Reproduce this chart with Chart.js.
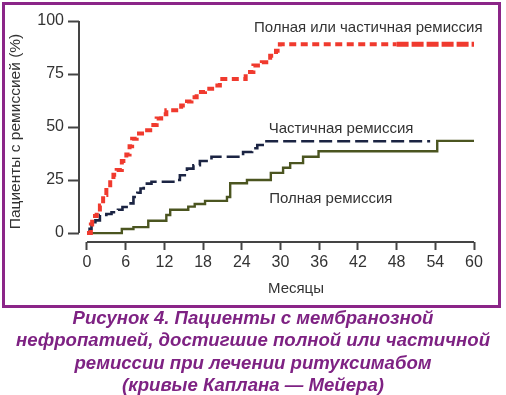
<!DOCTYPE html>
<html>
<head>
<meta charset="utf-8">
<script src="https://cdn.jsdelivr.net/npm/chart.js@4"></script>
<style>
  body { margin: 0; background: #fff; }
  #wrap { position: relative; width: 506px; height: 395px; }
  #chart { position: absolute; left: 0; top: 0; }
  #box { position: absolute; left: 2px; top: 2px; width: 499px; height: 306px; box-sizing: border-box;
         border: 3px solid #8b2588; pointer-events: none; }
  #caption { position: absolute; left: 0; top: 307px; width: 506px; text-align: center;
             font: italic bold 18.6px "Liberation Sans", Arial, sans-serif; line-height: 22.4px; color: #7e2283; }
</style>
</head>
<body>
<div id="wrap">
  <canvas id="chart" width="506" height="306"></canvas>
  <div id="box"></div>
  <div id="caption">Рисунок 4. Пациенты с мембранозной<br>нефропатией, достигшие полной или частичной<br>ремиссии при лечении ритуксимабом<br>(кривые Каплана — Мейера)</div>
</div>
<script>
  // Kaplan-Meier steps: [month, % patients]
  var anyRemission = [[0,0],[0.6,4],[0.8,8],[1.5,8.6],[2,13],[2.5,18],[3,21.5],[3.6,25],[4.1,27.5],[4.6,29.7],[5.4,34],[6.1,37],[6.6,41],[7,44.5],[7.7,46.9],[9,48.5],[9.8,51],[10.8,54],[11.5,56],[12.3,57.9],[14.6,60.2],[15.5,62],[16.2,64.1],[17,66.5],[18.3,68],[19.4,69.6],[20.6,72.7],[24.6,75.9],[25.8,79],[27.1,80.5],[28.4,83.6],[29.3,86],[29.9,89],[48,89],[60,89]];
  var partialRemission = [[0,0],[0.4,2],[0.7,4],[1.3,6],[2,8.5],[3,9],[3.8,9.8],[4.8,11],[5.5,12.3],[6.4,14],[7.2,17],[7.8,19],[8.3,21],[8.8,23.3],[10,24.2],[14,25],[14.4,27.3],[15.5,30.4],[16.5,32],[17.5,34],[19.3,36],[24.2,38.2],[25.6,40],[26.4,41.5],[27.6,43.3],[53.2,43.3]];
  var completeRemission = [[0,0],[5.4,1.9],[7.2,2.8],[9.5,5.8],[12.3,8.5],[12.9,11],[15.7,12.5],[16.7,13.7],[18.3,15.2],[21.7,17],[22.2,23.5],[24.8,25],[28.5,28.4],[30.4,30.8],[31.5,33],[33.5,36],[35.9,38.6],[54.3,43.5],[60,43.5]];

  var xTicks = [0, 6, 12, 18, 24, 30, 36, 42, 48, 54, 60];
  var yTicks = [0, 25, 50, 75, 100];

  // curve labels: [text, month, percent]
  var curveLabels = [
    ['Полная или частичная ремиссия', 43.6, 97],
    ['Частичная ремиссия', 39.4, 49.3],
    ['Полная ремиссия', 37.8, 16],
    ['Месяцы', 32.4, -26.5]
  ];

  function toXY(arr) { return arr.map(function (p) { return { x: p[0], y: p[1] }; }); }

  var axisColor = '#444';
  var textColor = '#333';

  // axis lines only across the data range (detached axes)
  var axesPlugin = {
    id: 'axesLines',
    afterDraw: function (chart) {
      var c = chart.ctx, xs = chart.scales.x, ys = chart.scales.y, a = chart.chartArea;
      c.save();
      c.strokeStyle = axisColor;
      c.lineWidth = 2;
      c.beginPath();
      c.moveTo(a.left, ys.getPixelForValue(0));
      c.lineTo(a.left, ys.getPixelForValue(100));
      c.moveTo(xs.getPixelForValue(0), a.bottom);
      c.lineTo(xs.getPixelForValue(60), a.bottom);
      c.stroke();
      c.fillStyle = textColor;
      c.font = '15px "Liberation Sans", Arial, sans-serif';
      c.textAlign = 'center';
      c.textBaseline = 'middle';
      curveLabels.forEach(function (l) {
        c.fillText(l[0], xs.getPixelForValue(l[1]), ys.getPixelForValue(l[2]));
      });
      c.restore();
    }
  };

  var ctx = document.getElementById('chart').getContext('2d');
  var chart = new Chart(ctx, {
    type: 'line',
    data: {
      datasets: [{
        label: 'Полная или частичная ремиссия',
        data: toXY(anyRemission),
        borderColor: '#f03a2e',
        borderWidth: 4,
        borderDash: [7, 4.5],
        stepped: true,
        segment: {
          borderWidth: function (s) { return s.p0.parsed.x >= 48 ? 5 : 4; },
          borderDash: function (s) { return s.p0.parsed.x >= 48 ? [12, 3] : [7, 4.5]; }
        }
      }, {
        label: 'Частичная ремиссия',
        data: toXY(partialRemission),
        borderColor: '#1b2443',
        borderWidth: 2.6,
        borderDash: [13, 5],
        stepped: true
      }, {
        label: 'Полная ремиссия',
        data: toXY(completeRemission),
        borderColor: '#4b5520',
        borderWidth: 2.4,
        stepped: true
      }]
    },
    options: {
      responsive: false,
      animation: false,
      layout: { padding: { left: 0, top: 21, right: 32, bottom: 0 } },
      elements: { point: { radius: 0 } },
      plugins: { legend: { display: false }, tooltip: { enabled: false } },
      scales: {
        x: {
          type: 'linear',
          min: -1.24,
          max: 60,
          afterBuildTicks: function (s) { s.ticks = xTicks.map(function (v) { return { value: v }; }); },
          afterFit: function (s) { s.height = 64; },
          grid: { display: true, drawOnChartArea: false, drawTicks: true, tickLength: 8, tickWidth: 2, color: axisColor },
          border: { display: false },
          ticks: { color: textColor, padding: 3, maxRotation: 0, font: { size: 16, family: '"Liberation Sans", Arial, sans-serif' } }
        },
        y: {
          type: 'linear',
          min: -4.2,
          max: 100,
          afterBuildTicks: function (s) { s.ticks = yTicks.map(function (v) { return { value: v }; }); },
          afterFit: function (s) { s.width = 79; },
          grid: { display: true, drawOnChartArea: false, drawTicks: true, tickLength: 11, tickWidth: 2, color: axisColor },
          border: { display: false },
          ticks: { color: textColor, padding: 4, font: { size: 16, family: '"Liberation Sans", Arial, sans-serif' } },
          title: { display: true, text: 'Пациенты с ремиссией (%)', color: textColor, padding: { top: 6 },
                   font: { size: 15.5, family: '"Liberation Sans", Arial, sans-serif' } }
        }
      }
    },
    plugins: [axesPlugin]
  });
</script>
</body>
</html>
